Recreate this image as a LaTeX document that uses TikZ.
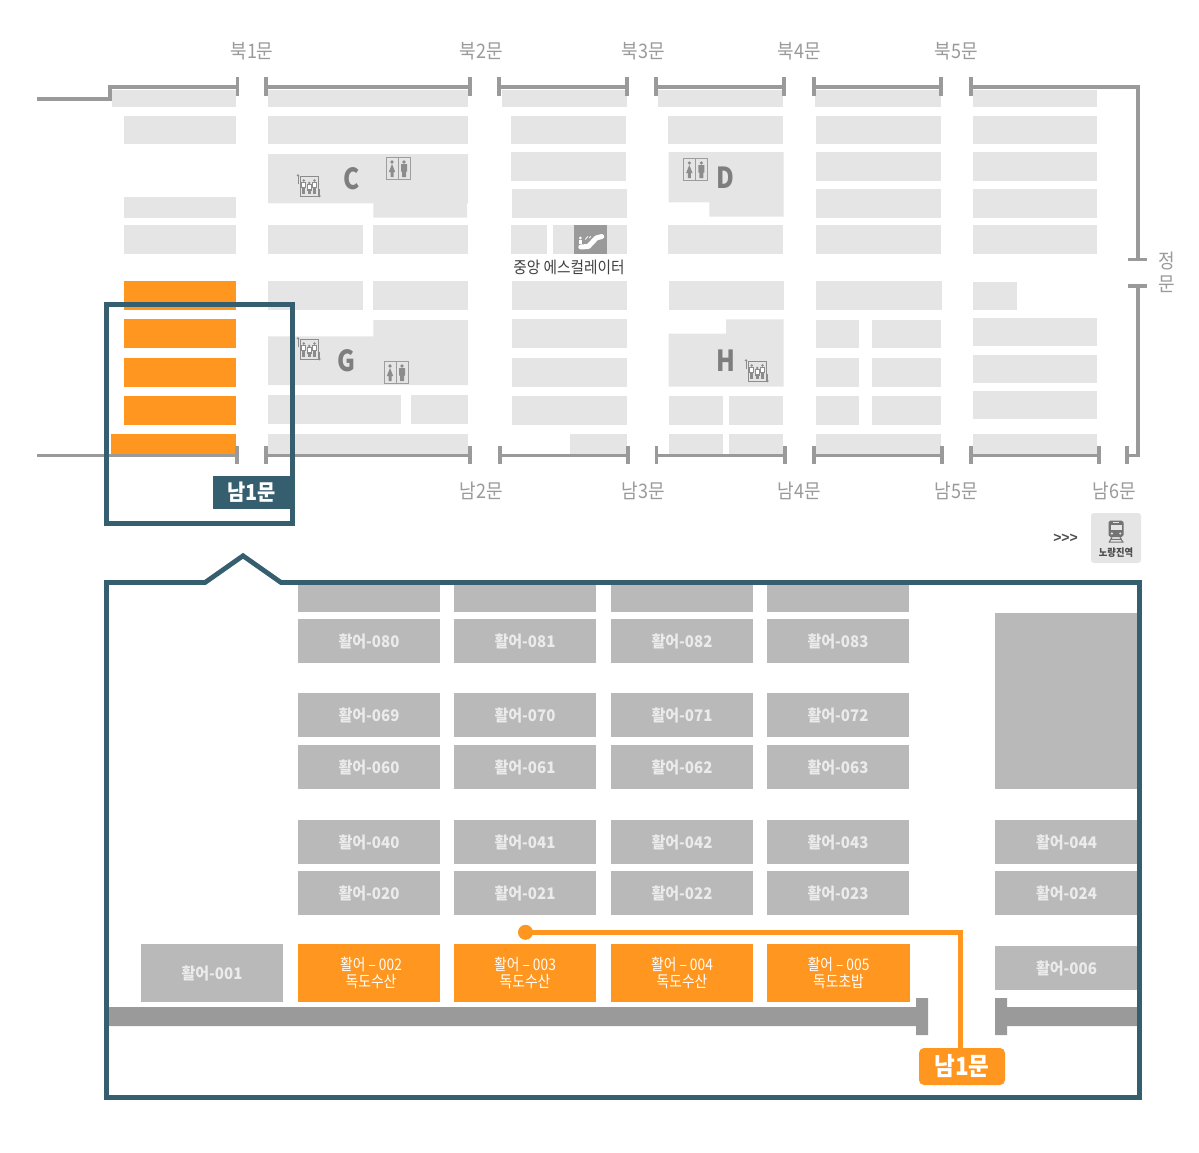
\documentclass[tikz,border=0pt]{standalone}
\usepackage{fontspec}
\setmainfont{Noto Sans CJK KR}
\newfontfamily\krn[FakeStretch=0.9]{Noto Sans CJK KR}
\newfontfamily\krw[FakeStretch=0.94]{Noto Sans CJK KR}
\newfontfamily\kro[FakeStretch=0.86]{Noto Sans CJK KR}
\newfontfamily\cond[FakeStretch=0.84]{Noto Sans CJK KR}
\newfontfamily\lsans{Liberation Sans}
\usetikzlibrary{calc}
\definecolor{zone}{HTML}{E5E5E5}
\definecolor{hl}{HTML}{FF961F}
\definecolor{frameblue}{HTML}{355E6F}
\definecolor{wallgrey}{HTML}{9A9A9A}
\definecolor{boothgrey}{HTML}{B9B9B9}
\definecolor{iconc}{HTML}{8C8C8C}
\tikzset{
  x=1pt,y=-1pt,
  wall/.style={draw=wallgrey,line width=3.6pt,line cap=butt,line join=miter},
  frameline/.style={draw=frameblue,line width=4.8pt,line join=miter},
  gatelabel/.style={inner sep=0pt,text=wallgrey,font=\krn\fontsize{20}{20}\selectfont},
  bigletter/.style={inner sep=0pt,text=iconc!90!black,font=\cond\bfseries\fontsize{29}{29}\selectfont},
  boothnode/.style={inner sep=0pt,outer sep=0pt,align=center,text=white!92!black,font=\krw\bfseries\fontsize{16}{17}\selectfont},
  orangetext/.style={font=\kro\fontsize{16}{17}\selectfont,text=white},
  wc/.pic={
    \draw[iconc!85!white,line width=.9pt] (-12,-11) rectangle (12,11);
    \draw[iconc!85!white,line width=.9pt] (0,-11) -- (0,11);
    \fill[iconc] (-6,-6.5) circle (1.8) (6,-6.5) circle (1.8);
    \fill[iconc] (-6,-4.5) -- (-2.8,3.5) -- (-4.5,3.5) -- (-4.5,8.5) -- (-7.5,8.5) -- (-7.5,3.5) -- (-9.2,3.5) -- cycle;
    \fill[iconc] (3,-4.4) rectangle (9,3) (4,3) rectangle (8,8.5);
  },
  liftpic/.pic={
    \draw[iconc,line width=.8pt] (-8.5,-10) rectangle (10,10);
    \foreach \d/\s in {-4.8/-5.5,0.7/-3,6/-5.5}{
      \fill[iconc] (\d,\s) circle (1.4);
      \draw[iconc,line width=.7pt,fill=white] (\d-2.1,\s+1.8) rectangle (\d+2.1,\s+7);
      \fill[iconc] (\d-1.6,\s+6) rectangle (\d+1.6,8);
    }
    \draw[iconc,line width=.5pt] (-10.5,-11) -- (-10.5,-2);
    \fill[iconc] (-10.5,-12) -- (-12,-10) -- (-9,-10) -- cycle;
    \draw[iconc,line width=.5pt] (11,3) -- (11,10);
    \fill[iconc] (11,11.5) -- (9.5,9.5) -- (12.5,9.5) -- cycle;
  },
  escpic/.pic={
    \draw[white,line width=5pt,line cap=round,line join=round] (-9.5,7.5) -- (-2,7) -- (6,-1.5) -- (11.5,-3);
    \fill[white] (-10,-1.5) circle (1.5);
    \fill[white] (-11.5,.5) rectangle (-8.5,4);
    \draw[white,line width=.8pt] (-5,0) -- (-2.5,-3);
    \draw[white,line width=.8pt] (-1,-1.5) -- (0.5,-3);
  },
  trainpic/.pic={
    \fill[black!55,rounded corners=1.8pt] (-7.5,-10.5) rectangle (7.5,6);
    \fill[zone] (-5.5,-6.5) rectangle (5.5,-1);
    \fill[zone] (-3,-9.5) rectangle (3,-8);
    \fill[zone] (-4.2,2.5) circle (1.2) (4.2,2.5) circle (1.2);
    \draw[black!55,line width=1pt] (-4,6) -- (-7,11.5) (4,6) -- (7,11.5) (-5.5,8.3) -- (5.5,8.3) (-7.5,11) -- (7.5,11);
  }
}
\newcommand{\zr}[4]{\fill[zone] (#1,#2) rectangle (#3,#4);}
\newcommand{\hr}[4]{\fill[hl] (#1,#2) rectangle (#3,#4);}
\newcommand{\bth}[7]{\node[boothnode,fill=#6,minimum width={#4pt-#2pt},minimum height={#5pt-#3pt}] (#1) at ({(#2+#4)/2},{(#3+#5)/2}) {\raisebox{-1pt}{#7}};}
\newcommand{\bto}[6]{\node[boothnode,orangetext,fill=hl,minimum width={#4pt-#2pt},minimum height={#5pt-#3pt}] (#1) at ({(#2+#4)/2},{(#3+#5)/2}) {#6};}
\begin{document}
\begin{tikzpicture}
\useasboundingbox (0,0) rectangle (1199,1153);
% top plan: zones
\zr{112}{90}{236}{107.3}\zr{124}{116}{236}{144.5}\zr{124}{196.7}{236}{217.7}\zr{124}{225}{236}{253.7}
\hr{124}{281}{236}{309.7}\hr{124}{319.3}{236}{347.7}\hr{124}{358.3}{236}{386.7}\hr{124}{396.3}{236}{424.7}\hr{111}{434}{236}{454}
\zr{268}{90}{468}{107.3}\zr{268}{116}{468}{144.5}
\fill[zone] (268,154) -- (468,154) -- (468,203.3) -- (467,203.3) -- (467,217.7) -- (373.3,217.7) -- (373.3,203.3) -- (268,203.3) -- cycle;
\zr{268}{225}{362.7}{253.7}\zr{373.3}{225}{468}{253.7}
\zr{268}{281}{362.7}{309.7}\zr{373.3}{281}{468}{309.7}
\fill[zone] (268,336.3) -- (373.3,336.3) -- (373.3,320) -- (468,320) -- (468,385) -- (268,385) -- cycle;
\zr{268}{395}{400.7}{424}\zr{411}{395}{468}{424}\zr{268}{434}{468}{454}
\zr{502}{90}{627}{107.3}\zr{511}{116}{626}{144.5}\zr{511}{152}{626}{180.7}\zr{512}{189}{627}{217.7}
\zr{511}{225.3}{547}{253.7}\zr{553}{225.3}{627}{253.7}
\fill[wallgrey] (573.7,225.3) rectangle (607,253.7);
\zr{512}{281.3}{627}{309.7}\zr{512}{319.3}{627}{347.7}\zr{512}{358.3}{627}{386.7}\zr{512}{396.3}{627}{424.7}\zr{570}{434.3}{627}{454}
\zr{658}{90}{783}{107.3}\zr{668}{116}{783}{144.5}
\fill[zone] (668.7,152) -- (783.7,152) -- (783.7,216.7) -- (709.3,216.7) -- (709.3,202.3) -- (668.7,202.3) -- cycle;
\zr{667.7}{225.3}{782.7}{253.7}\zr{668.7}{281.3}{783.7}{309.7}
\fill[zone] (668.7,333.7) -- (726,333.7) -- (726,319.3) -- (783.7,319.3) -- (783.7,386.7) -- (668.7,386.7) -- cycle;
\zr{668.7}{396.3}{723}{424.7}\zr{728.7}{396.3}{782.7}{424.7}\zr{668.7}{434.3}{723}{454}\zr{728.7}{434.3}{782.7}{454}
\zr{815}{90}{941}{107.3}\zr{816}{116}{941}{144.5}\zr{816}{152}{941}{181}\zr{816}{189}{941}{218}\zr{816}{225}{941}{253.7}\zr{816}{281}{942}{309.7}
\zr{816}{319.5}{859}{347.7}\zr{872}{319.5}{941}{347.7}\zr{816}{358.3}{859}{386.7}\zr{872}{358.3}{941}{386.7}\zr{816}{396}{859}{424.7}\zr{872}{396}{941}{424.7}\zr{816}{434.3}{941}{454}
\zr{973}{90}{1097}{107.3}\zr{973}{116}{1097}{144.5}\zr{973}{152}{1097}{181}\zr{973}{189}{1097}{218}\zr{973}{225}{1097}{253.5}\zr{973}{281.5}{1017}{309.7}
\zr{973}{317.5}{1097}{345.7}\zr{973}{354.7}{1097}{383}\zr{973}{390.7}{1097}{419}\zr{973}{434}{1097}{454}
% walls top
\draw[wall] (37,99) -- (110,99) -- (110,87) -- (237,87);
\draw[wall] (237.3,77) -- (237.3,96);
\foreach \a/\b in {266/470,499/627,656/784,814/941}{
  \draw[wall] (\a,87) -- (\b,87) (\a,77) -- (\a,96) (\b,77) -- (\b,96);
}
\draw[wall] (971,77) -- (971,96);
\draw[wall] (971,87) -- (1137.7,87) -- (1137.7,259.3);
\draw[wall] (1128,259.3) -- (1147,259.3) (1128,286) -- (1147,286);
\draw[wall] (1137.7,286) -- (1137.7,455.5) -- (1126.7,455.5);
\draw[wall] (1126.7,446) -- (1126.7,464);
% walls bottom
\draw[wall] (37,455.5) -- (237,455.5) (237,446) -- (237,464);
\foreach \a/\b in {266/470,499.7/628,656.3/784.7,814/942,971/1099}{
  \draw[wall] (\a,455.5) -- (\b,455.5) (\a,446) -- (\a,464) (\b,446) -- (\b,464);
}
% top plan labels
\node[gatelabel] (n1) at (252,51) {북1문};
\node[gatelabel] (n2) at (481,51) {북2문};
\node[gatelabel] (n3) at (643,51) {북3문};
\node[gatelabel] (n4) at (799.5,51) {북4문};
\node[gatelabel] (n5) at (956,51) {북5문};
\node[gatelabel] (s2) at (481,491) {남2문};
\node[gatelabel] (s3) at (643,491) {남3문};
\node[gatelabel] (s4) at (799.5,491) {남4문};
\node[gatelabel] (s5) at (956,491) {남5문};
\node[gatelabel] (s6) at (1114,491) {남6문};
\node[gatelabel] (front1) at (1167,261) {정};
\node[gatelabel] (front2) at (1167,284) {문};
\node[bigletter] (lc) at (352,179) {C};
\node[bigletter] (lg) at (346.7,361) {G};
\node[bigletter] (ld) at (725.7,177.5) {D};
\node[bigletter] (lh) at (725.7,360.5) {H};
\pic at (398,168.5) {wc};
\pic at (396,372.5) {wc};
\pic at (695.3,169.5) {wc};
\pic at (308.5,186) {liftpic};
\pic at (308.5,349) {liftpic};
\pic at (756.5,371) {liftpic};
\pic at (590.3,239.5) {escpic};
\node[inner sep=0pt,text=black!75,font=\krn\fontsize{16.3}{16}\selectfont] (esc) at (569,267.5) {중앙 에스컬레이터};
% station
\fill[zone,rounded corners=3pt] (1091,513) rectangle (1141,563);
\pic at (1116,531) {trainpic};
\node[inner sep=0pt,text=black!70,font=\krn\bfseries\fontsize{10.3}{10}\selectfont] (stn) at (1116,553) {노량진역};
\node[inner sep=0pt,text=black!70,font=\lsans\bfseries\fontsize{14}{14}\selectfont] (arrows) at (1065.5,538.5) {>{}>{}>};
% small frame
\draw[frameline] (106.4,304.4) rectangle (292.6,523.2);
\node[inner sep=0pt,fill=frameblue,text=white,font=\krn\bfseries\fontsize{22}{22}\selectfont,minimum width=77pt,minimum height=33pt] (gate) at (251.5,492.5) {남1문};
% detail booths
\bth{t1}{298}{585}{440}{612}{boothgrey}{}
\bth{t2}{454}{585}{596}{612}{boothgrey}{}
\bth{t3}{611}{585}{753}{612}{boothgrey}{}
\bth{t4}{767}{585}{909}{612}{boothgrey}{}
\bth{b80}{298}{619}{440}{663}{boothgrey}{활어-080}
\bth{b81}{454}{619}{596}{663}{boothgrey}{활어-081}
\bth{b82}{611}{619}{753}{663}{boothgrey}{활어-082}
\bth{b83}{767}{619}{909}{663}{boothgrey}{활어-083}
\bth{b69}{298}{693}{440}{737}{boothgrey}{활어-069}
\bth{b70}{454}{693}{596}{737}{boothgrey}{활어-070}
\bth{b71}{611}{693}{753}{737}{boothgrey}{활어-071}
\bth{b72}{767}{693}{909}{737}{boothgrey}{활어-072}
\bth{b60}{298}{745}{440}{789}{boothgrey}{활어-060}
\bth{b61}{454}{745}{596}{789}{boothgrey}{활어-061}
\bth{b62}{611}{745}{753}{789}{boothgrey}{활어-062}
\bth{b63}{767}{745}{909}{789}{boothgrey}{활어-063}
\bth{b40}{298}{820}{440}{864}{boothgrey}{활어-040}
\bth{b41}{454}{820}{596}{864}{boothgrey}{활어-041}
\bth{b42}{611}{820}{753}{864}{boothgrey}{활어-042}
\bth{b43}{767}{820}{909}{864}{boothgrey}{활어-043}
\bth{b44}{995}{820}{1138}{864}{boothgrey}{활어-044}
\bth{b20}{298}{871}{440}{915}{boothgrey}{활어-020}
\bth{b21}{454}{871}{596}{915}{boothgrey}{활어-021}
\bth{b22}{611}{871}{753}{915}{boothgrey}{활어-022}
\bth{b23}{767}{871}{909}{915}{boothgrey}{활어-023}
\bth{b24}{995}{871}{1138}{915}{boothgrey}{활어-024}
\bth{big}{995}{613}{1138}{789}{boothgrey}{}
\bth{b01}{141}{944}{283}{1002}{boothgrey}{활어-001}
\bth{b06}{995}{946}{1138}{990}{boothgrey}{활어-006}
\bto{b02}{298}{944}{440}{1002}{\hspace*{4pt}활어 – 002\\\hspace*{4pt}독도수산}
\bto{b03}{454}{944}{596}{1002}{활어 – 003\\독도수산}
\bto{b04}{611}{944}{753}{1002}{활어 – 004\\독도수산}
\bto{b05}{767}{944}{910}{1002}{활어 – 005\\독도초밥}
% thick walls
\fill[wallgrey] (107,1007) rectangle (916,1026) (916,998) rectangle (928,1035);
\fill[wallgrey] (995,998) rectangle (1007,1035) (1007,1007) rectangle (1138,1026);
% big frame
\draw[frameline] (106.4,582.5) -- (205,582.5) -- (243,555.8) -- (281,582.5) -- (1139.5,582.5) -- (1139.5,1097.5) -- (106.4,1097.5) -- cycle;
% route
\node[circle,fill=hl,inner sep=0pt,minimum size=15pt] (dot) at (525.5,932.3) {};
\node[fill=hl,rounded corners=5pt,inner sep=0pt,minimum width=86pt,minimum height=37pt,text=white,font=\krn\bfseries\fontsize{25}{25}\selectfont] (tag) at (962,1066.5) {남1문};
\coordinate (routeend) at (960.7,1049);
\draw[hl,line width=4.7pt,line join=miter] (dot.center) -| (routeend);
\end{tikzpicture}
\end{document}
